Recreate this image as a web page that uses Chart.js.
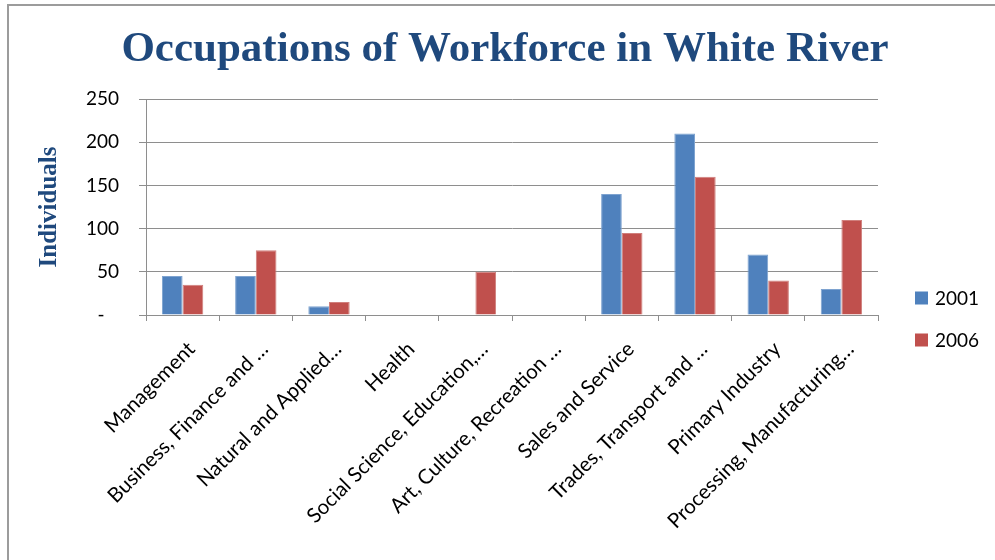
<!DOCTYPE html>
<html>
<head>
<meta charset="utf-8">
<script src="https://cdn.jsdelivr.net/npm/chart.js@4.4.1/dist/chart.umd.min.js"></script>
<style>
  html, body { margin: 0; padding: 0; background: #ffffff; }
  #wrap { width: 995px; height: 560px; position: relative; }
</style>
</head>
<body>
<div id="wrap"><canvas id="c" width="995" height="560"></canvas></div>
<script>
// Occupation groups (as labelled on the axis)
const categories = [
  'Management',
  'Business, Finance and \u2026',
  'Natural and Applied\u2026',
  'Health',
  'Social Science, Education,\u2026',
  'Art, Culture, Recreation \u2026',
  'Sales and Service',
  'Trades, Transport and \u2026',
  'Primary Industry',
  'Processing, Manufacturing\u2026'
];
const seriesNames = ['2001', '2006'];
const values2001 = [45, 45, 10, 0, 0, 0, 140, 210, 70, 30];
const values2006 = [35, 75, 15, 0, 50, 0, 95, 160, 40, 110];
const yTickValues = [0, 50, 100, 150, 200, 250];

const seriesColors = ['#4F81BD', '#C0504D'];
const seriesEdges = ['#7EA3D0', '#D07F7C'];
const labelFont = 'Lato';

// White page with the grey frame on the left and top
const framePlugin = {
  id: 'frame',
  beforeDraw(chart) {
    const ctx = chart.ctx;
    ctx.save();
    ctx.fillStyle = '#ffffff';
    ctx.fillRect(0, 0, chart.width, chart.height);
    ctx.strokeStyle = '#9C9C9C';
    ctx.lineWidth = 2;
    ctx.beginPath();
    ctx.moveTo(8, chart.height);
    ctx.lineTo(8, 5);
    ctx.lineTo(chart.width, 5);
    ctx.stroke();
    ctx.restore();
  }
};

// Legend with square swatches, stacked in the right-hand margin
const sideLegend = {
  id: 'sideLegend',
  afterDraw(chart) {
    const ctx = chart.ctx;
    ctx.save();
    ctx.font = '19px ' + labelFont;
    ctx.textBaseline = 'middle';
    ctx.textAlign = 'left';
    chart.data.datasets.forEach((ds, i) => {
      const cy = 298 + i * 42;
      ctx.fillStyle = ds.backgroundColor;
      ctx.fillRect(915, cy - 6.5, 13, 13);
      ctx.fillStyle = '#000000';
      ctx.fillText(ds.label, 935, cy + 1);
    });
    ctx.restore();
  }
};

new Chart(document.getElementById('c'), {
  type: 'bar',
  data: {
    labels: categories,
    datasets: [
      { label: seriesNames[0], data: values2001, backgroundColor: seriesColors[0], borderColor: seriesEdges[0], borderWidth: 1 },
      { label: seriesNames[1], data: values2006, backgroundColor: seriesColors[1], borderColor: seriesEdges[1], borderWidth: 1 }
    ]
  },
  options: {
    responsive: false,
    devicePixelRatio: 1,
    animation: false,
    layout: { padding: { left: 15, right: 0, top: 0, bottom: 0 } },
    datasets: { bar: { categoryPercentage: 0.565, barPercentage: 1.0 } },
    plugins: {
      legend: { display: false },
      tooltip: { enabled: false },
      title: {
        display: true,
        text: 'Occupations of Workforce in White River',
        color: '#1F497D',
        font: { family: 'Liberation Serif', weight: 'bold', size: 43, lineHeight: 1.2 },
        padding: { top: 24, bottom: 23.4 }
      }
    },
    scales: {
      x: {
        grid: { display: true, drawOnChartArea: false, drawTicks: true, offset: true, tickLength: 6, color: '#8E8E8E', lineWidth: 1 },
        border: { display: true, color: '#8E8E8E', width: 1 },
        ticks: {
          autoSkip: false, maxRotation: 45, minRotation: 45,
          padding: 16, labelOffset: 9,
          color: '#000000', font: { family: labelFont, size: 20.5 }
        },
        afterFit(scale) { scale.height = 245; }
      },
      y: {
        min: 0, max: 250,
        afterBuildTicks(scale) { scale.ticks = yTickValues.map(v => ({ value: v })); },
        grid: { color: '#8E8E8E', lineWidth: 1, tickLength: 7, drawTicks: true },
        border: { display: true, color: '#8E8E8E', width: 1 },
        ticks: {
          padding: 20,
          color: '#000000', font: { family: labelFont, size: 19 },
          callback: v => (v === 0 ? '-\u2002 ' : String(v))
        },
        title: {
          display: true,
          text: 'Individuals',
          color: '#1F497D',
          font: { family: 'Liberation Serif', weight: 'bold', size: 25, lineHeight: 1.2 },
          padding: { top: 19.5, bottom: 0 }
        },
        afterFit(scale) { scale.width = 131; }
      },
      // right-hand margin that holds the legend
      legendMargin: {
        type: 'linear', position: 'right', display: true,
        grid: { display: false }, border: { display: false },
        ticks: { display: false },
        afterFit(scale) { scale.width = 117; }
      }
    }
  },
  plugins: [framePlugin, sideLegend]
});
</script>
</body>
</html>
